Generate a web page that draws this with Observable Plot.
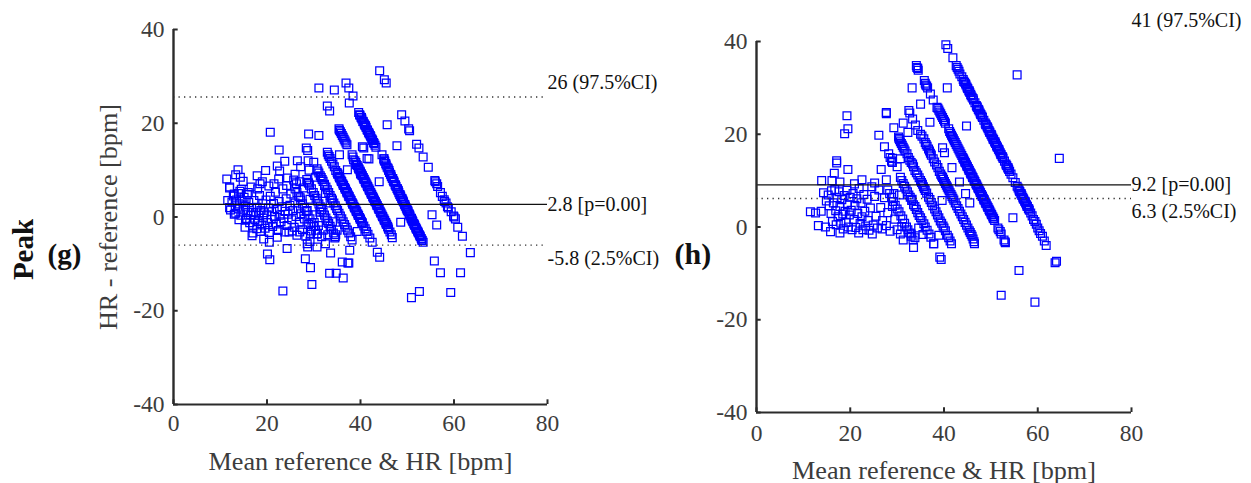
<!DOCTYPE html>
<html><head><meta charset="utf-8">
<script src="https://cdn.jsdelivr.net/npm/d3@7"></script>
<script src="https://cdn.jsdelivr.net/npm/@observablehq/plot@0.6"></script>
<style>
html,body{margin:0;padding:0;background:#fff;width:1251px;height:483px;overflow:hidden}
#wrap{position:relative;width:1251px;height:483px}
#wrap>svg{position:absolute;top:0;overflow:visible}
</style></head><body><div id="wrap"></div>
<script>
const xTicks=[0,20,40,60,80], yTicks=[-40,-20,0,20,40];
const xLabel="Mean reference & HR [bpm]", yLabel="HR - reference [bpm]";

// Panel (g): points, [mean, difference]
const gBandR=[[48.8,21.8],[49.5,20.5],[50.3,18.8],[50.5,18.4],[52,15.5],[52.5,14.7],[53.4,12.8],[54.5,10.6],[55.9,7.8],[56,7.5],[56.3,7.1],[56.5,6.5],[57.1,5.2],[57.5,4.4],[57.9,3.7],[58,3.3],[58.3,3],[58.6,2.2],[58.8,1.9],[59.4,1.1],[59.9,0.2],[60.3,-0.4],[60.8,-2.2],[61.8,-4.1]];
const gBandA=[[39.6,22.3],[39.9,21.7],[40.1,21.3],[40.3,20.9],[40.6,20.3],[40.8,19.9],[41,19.5],[41.2,19.1],[41.5,18.5],[41.7,18.1],[41.9,17.7],[42.2,17.1],[42.4,16.7],[42.6,16.3],[42.9,15.7],[43.1,15.3],[43.3,14.9],[44.6,13.3],[45,12.4],[45.2,11.9],[45.4,11.4],[45.7,10.6],[46,10],[46.2,9.5],[46.4,9.1],[46.6,8.6],[46.8,8.2],[47,7.8],[47.2,7.4],[47.4,6.9],[47.6,6.5],[47.8,6.1],[48,5.7],[48.2,5.2],[48.4,4.8],[48.6,4.4],[48.8,4],[49,3.6],[49.2,3.2],[49.4,2.7],[49.6,2.3],[49.8,1.9],[50,1.5],[50.2,1.1],[50.4,0.7],[50.6,0.2],[50.8,-0.2],[51,-0.6],[51.2,-1],[51.4,-1.4],[51.6,-1.8],[51.8,-2.2],[52,-2.6],[52.2,-3],[52.4,-3.4],[52.6,-3.8],[52.8,-4.2],[53,-4.6],[53.2,-5],[53.4,-5.4]];
const gBandA2=[[39.8,21.8],[40.2,21.2],[40.5,20.4],[40.9,19.7],[41.1,19.4],[41.4,18.6],[41.8,17.9],[42.1,17.4],[42.5,16.5],[42.8,15.9],[45.1,12],[45.5,11.1],[45.9,10.4],[46.1,9.9],[46.5,9],[46.9,8.2],[47.1,7.6],[47.5,6.8],[47.9,6],[48.1,5.6],[48.5,4.7],[48.9,3.9],[49.1,3.4],[49.5,2.6],[49.9,1.7],[50.1,1.4],[50.5,0.5],[50.9,-0.3],[51.1,-0.8],[51.5,-1.6],[51.9,-2.5],[52.3,-3.2],[52.7,-4],[53.1,-4.9]];
const gBandB=[[35.4,18.8],[35.5,18.5],[35.7,18.2],[35.9,17.8],[36.1,17.4],[36.3,17],[36.5,16.6],[36.7,16.2],[36.9,15.8],[37.1,15.4],[38.2,13.3],[38.4,12.8],[38.5,12.2],[38.8,12],[39,11.6],[39.3,11],[39.5,10.6],[39.7,10.2],[40,9.6],[40.2,9.2],[40.4,8.8],[40.6,8.4],[40.8,8],[41,7.6],[41.2,7.2],[41.4,6.8],[41.6,6.4],[41.8,6],[42,5.6],[42.2,5.2],[42.4,4.8],[42.6,4.4],[42.8,4],[43,3.6],[43.2,3.2],[43.4,2.8],[43.6,2.4],[43.8,2],[44,1.6],[44.2,1.2],[44.4,0.8],[44.6,0.4],[44.8,0],[45,-0.4],[45.2,-0.8],[45.4,-1.2],[45.6,-1.6],[45.8,-2],[46,-2.6],[46.3,-3.2],[46.6,-3.8],[46.8,-4.4]];
const gBandB2=[[39.1,11.2],[39.6,10.3],[39.9,9.8],[40.3,8.9],[40.7,8.1],[41.1,7.3],[41.5,6.5],[41.9,5.7],[42.3,4.9],[42.7,4.1],[43.1,3.3],[43.5,2.5],[43.9,1.7],[44.3,0.9],[44.7,0.1],[45.1,-0.7],[45.5,-1.5],[45.9,-2.3]];
const gBandC=[[32.9,13.8],[33.1,13.3],[33.3,12.9],[33.5,12.5],[33.8,11.9],[34.1,11.3],[34.4,10.7],[34.7,9.9],[35,9.5],[35.2,9.1],[35.4,8.7],[35.6,8.3],[35.8,7.9],[36,7.5],[36.2,7.1],[36.4,6.7],[36.6,6.3],[36.8,5.9],[37,5.5],[37.2,5.1],[37.4,4.7],[37.6,4.3],[37.8,3.9],[38,3.5],[38.2,3.1],[38.4,2.7],[38.6,2.3],[38.8,1.9],[39,1.5],[39.2,1.1],[39.4,0.7],[39.6,0.3],[39.8,-0.1],[40,-0.5],[40.2,-0.9],[40.4,-1.3],[40.7,-1.9],[41,-2.5],[41.3,-3.1],[41.6,-3.7],[42,-4.5]];
const gBandC2=[[35.1,9.2],[35.5,8.4],[35.9,7.6],[36.3,6.8],[36.7,6],[37.1,5.2],[37.5,4.4],[37.9,3.6],[38.3,2.8],[38.7,2],[39.1,1.2],[39.5,0.4],[39.9,-0.4],[40.3,-1.2]];
const gBandD=[[30.7,10.3],[30.9,9.8],[31.1,9.4],[31.4,8.8],[31.6,8.4],[31.8,8],[32,7.6],[32.3,7],[32.6,6.4],[32.9,5.8],[33.2,5.2],[33.5,4.6],[33.8,4],[34,3.6],[34.3,3],[34.6,2.4],[34.9,1.8],[35.1,1.4],[35.4,0.8],[35.7,0.2],[36,-0.4],[36.3,-1],[36.6,-1.6],[36.9,-2.2],[37.2,-2.8],[37.5,-3.4],[37.9,-4.2]];
const gBandE=[[28.5,8],[28.8,7.4],[29.1,6.8],[29.5,6],[29.9,5.2],[30.2,4.6],[30.5,4],[30.8,3.4],[31.1,2.8],[31.4,2.2],[31.7,1.6],[32,1],[32.3,0.4],[32.6,-0.2],[32.9,-0.8],[33.2,-1.4],[33.5,-2],[33.8,-2.6],[34.2,-3.4],[34.6,-4.2]];
const gBandF=[[26,6],[26.4,5.2],[26.8,4.4],[27.2,3.6],[27.6,2.8],[28,2],[28.4,1.2],[28.8,0.4],[29.2,-0.4],[29.6,-1.2],[30,-2],[30.4,-2.8],[30.8,-3.6]];
const gUpper=[[31.1,27.5],[34.4,27.1],[36.9,28.6],[37.5,27.5],[38.4,25.8],[37.6,24.3],[32.9,23.7],[33.4,22.6],[20.7,18.1],[28.9,17.7],[31.1,17.4],[22.6,14.3],[28.4,14.7],[28.7,14.2],[23.8,11.9],[26.5,12],[28.8,12],[30,11.7],[27.2,10.7],[22.2,10.9],[22.7,9.8],[19.7,9.9],[13.8,10.1],[13.3,9],[14.3,8.5],[14.9,7.6],[11.4,8.1],[12,6.4],[17.9,8.8],[18.5,7.1],[24.2,6.7],[25.7,7.9],[26.3,7.1],[28.9,7.2],[32.3,6.7],[35.5,13.3],[37.2,10.1],[40.4,15],[40.7,14.7],[41.4,12.5],[40,9.2],[44.1,31.2],[45.1,29.3],[45.5,28.6],[45.7,19.7],[47.8,15.2],[41.8,12.4],[45,12.4],[44,7.5],[48.6,-1.1]];
const gLower=[[55.3,0.5],[56.3,-1.7],[60,0],[63.5,-7.6],[55.8,-9.4],[57.1,-11.9],[61.4,-11.9],[59.3,-16.1],[52.6,-15.9],[50.9,-17.2],[37.7,-7.1],[43.6,-7.5],[44.1,-8.6],[37.3,-9.8],[36.1,-9.6],[36.3,-13],[39.3,-3.1],[42.5,-5.4],[38.2,-4.9],[23.4,-15.8],[29.6,-14.4],[33.4,-12],[34.8,-12],[37.5,-9.8],[33.6,-7.7],[29.3,-10.8],[28.2,-8.9],[24.3,-6.7],[20.1,-7.9],[20.6,-9.1],[16.8,-4],[19.3,-4.7],[20.5,-5.4],[22.2,-4.3],[23.8,-3.2],[25.4,-3],[27,-3.2],[29.3,-3.7],[28.6,-5.7],[28.7,-6.4],[29.2,-5.2],[30.7,-6.4],[32.5,-5.7],[34.7,-3.8]];
const gCloud=[[12,6.2],[14.2,5.5],[13,4.9],[15.8,4.8],[11.6,3.5],[12,2],[14,1.7],[13.3,0.8],[14,-0.6],[15.4,-0.7],[12.5,3.2],[12.8,4.5],[13.2,2.4],[13.5,3.6],[13.9,5],[14.1,2.8],[14.4,0.4],[14.7,3.4],[15,1.5],[15.1,4.2],[15.4,2.3],[15.6,-0.3],[15.9,1],[16.1,3.1],[16.3,-1.2],[16.5,0.4],[16.7,2],[16.9,-1.9],[17.1,1],[17.2,3.5],[17.4,-0.6],[17.6,0.9],[17.8,-2.5],[17.9,2.1],[18.1,-1],[18.3,0.3],[18.4,4.6],[18.6,-3.1],[18.7,1.4],[18.9,-1.7],[19.1,2.8],[19.2,-0.2],[19.4,0.9],[19.6,-2.4],[19.8,3.6],[20,0.5],[20.1,-1.2],[20.3,1.9],[20.5,-3.3],[20.7,4.4],[20.9,-0.5],[21,1.1],[21.2,-2],[21.4,2.9],[21.6,0.1],[21.8,5.3],[22,-1.5],[22.2,1.6],[22.4,-2.9],[22.6,3.3],[22.8,0.4],[23,-1],[23.2,2.2],[23.4,6],[23.6,-0.3],[23.9,1.2],[24.1,3.9],[24.3,-1.8],[24.5,0.6],[24.7,-3.2],[24.9,2.5],[25.1,4.9],[25.3,-0.6],[25.5,1.4],[25.8,-2.2],[26,3],[26.2,0.1],[26.4,-3.9],[26.7,1.8],[26.9,-1.1],[27.1,4.1],[27.3,0.7],[27.6,-2.7],[27.8,6.2],[28,-0.4],[28.3,-4.1],[28.6,1.4],[28.9,-1.6],[29.2,3.8],[29.5,-3],[29.8,0.5],[30.1,-1.2],[30.4,8.5],[30.7,-3.6],[31,-1.8],[31.3,1],[31.7,-4.2],[32,-2.8],[32.5,5],[33,-3.8],[33.5,3],[34,-1],[34.5,-4.5],[35,-2.8],[12.2,1.5],[13,0.6],[14.5,5.9],[15.3,-2.2],[16,5.2],[16.6,6.4],[17,-3.4],[18,6],[19,7.5],[20.4,6.6],[21.5,7.1],[22.5,8.1],[24.4,8.3],[26,9.1],[27,7.5],[29,10]];
const gLines={mean:2.7, upper:25.6, lower:-6};
const gText=["26 (97.5%CI)","2.8 [p=0.00]","-5.8 (2.5%CI)"];

// Panel (h): points, [mean, difference]
const hBandR=[[42.6,34.8],[42.8,34.4],[43,34],[43.2,33.6],[43.4,33],[43.8,32.4],[44.1,31.8],[44.4,31.2],[44.7,30.6],[44.9,30.2],[45.1,29.8],[45.3,29.4],[45.5,29],[45.7,28.6],[46,28],[46.3,27.4],[46.6,26.8],[46.9,26.2],[47.1,25.8],[47.3,25.4],[47.5,25],[47.7,24.6],[47.9,24.2],[48.2,23.6],[48.5,23],[48.8,22.4],[49,22],[49.2,21.6],[49.4,21.2],[49.6,20.8],[49.8,20.4],[50,20],[50.2,19.6],[50.4,19.2],[50.6,18.8],[50.8,18.4],[51,18],[51.2,17.6],[51.4,17.2],[51.6,16.8],[51.8,16.4],[52,16],[52.2,15.6],[52.4,15.2],[52.6,14.8],[52.9,14.2],[53.2,13.6],[53.4,13.2],[53.6,12.8],[53.8,12.4],[54,12],[54.3,11.4],[54.7,10.6],[55.2,9.6],[55.6,8.8],[55.8,8.4],[56,8],[56.2,7.6],[56.4,7.2],[56.6,6.8],[56.8,6.4],[57,6],[57.2,5.6],[57.4,5.2],[57.6,4.8],[57.8,4.4],[58,4],[58.2,3.6],[58.5,3],[58.8,2.4],[59.1,1.6],[59.4,1.2],[59.7,0.6],[60,-0.2],[60.3,-0.8],[60.6,-1.4],[61,-2],[61.4,-3],[61.8,-4]];
const hBandR2=[[44.2,31.4],[44.6,30.9],[45,29.9],[45.4,29.3],[45.8,28.3],[46.2,27.7],[47,26],[47.4,25.3],[47.8,24.3],[48.1,23.9],[48.9,22.1],[49.3,21.5],[49.7,20.5],[50.1,19.9],[50.5,18.9],[50.9,18.3],[51.3,17.3],[51.7,16.7],[52.1,15.7],[52.5,15.1],[53.3,13.3],[53.7,12.7],[56.1,7.7],[56.5,7.1],[56.9,6.1],[57.3,5.5],[57.7,4.5],[58.1,3.9]];
const hBandA=[[34.1,34.8],[34.2,34.4],[34.4,34.2],[34.5,33.8],[35.8,31.6],[36,31],[36.1,30.6],[36.3,30.4],[36.5,30],[37.1,28.7],[37.7,27.4],[38.5,25.8],[38.7,25.6],[38.9,25.2],[39.1,24.8],[39.3,24.4],[39.5,24],[39.7,23.6],[39.9,23.2],[40.1,22.8],[40.3,22.4],[41,21.2],[41.2,20.6],[41.4,20.2],[41.6,19.8],[41.8,19.4],[42,19],[42.2,18.6],[42.4,18.2],[42.6,17.8],[42.8,17.4],[43,17],[43.2,16.6],[43.4,16.2],[43.6,15.8],[43.8,15.4],[44,15],[44.2,14.6],[44.4,14.2],[44.6,13.8],[44.8,13.4],[45,13],[45.2,12.6],[45.4,12.2],[45.6,11.8],[45.8,11.4],[46,11],[46.2,10.6],[46.4,10.2],[46.6,9.8],[46.8,9.4],[47,9],[47.2,8.6],[47.4,8.2],[47.6,7.8],[47.8,7.4],[48,7],[48.2,6.6],[48.4,6.2],[48.6,5.8],[48.8,5.4],[49,5],[49.2,4.6],[49.4,4.2],[49.6,3.8],[49.8,3.4],[50,3],[50.2,2.6],[50.4,2.2],[50.6,1.8],[50.8,1.4],[51.5,-0.2],[51.7,-0.6],[52,-1],[52.2,-1.5],[52.8,-2.8],[53,-3.2],[53.1,-3.4]];
const hBandA2=[[44.1,14.7],[44.5,13.9],[44.9,13.1],[45.3,12.3],[45.7,11.5],[46.1,10.7],[46.5,9.9],[46.9,9.1],[47.3,8.3],[47.7,7.5],[48.1,6.7],[48.5,5.9],[48.9,5.1],[49.3,4.3],[49.7,3.5],[50.1,2.7],[50.5,1.9]];
const hBandB=[[32.5,25.1],[32.7,24.6],[33.3,23.3],[33.9,22],[34.4,20.8],[35,20],[35.3,19.6],[35.7,19],[36,18.2],[36.2,17.8],[36.4,17.4],[36.7,16.8],[36.9,16.4],[37.1,15.9],[37.3,15.5],[37.7,14.7],[38,14],[38.4,13.4],[38.7,12.8],[39,12],[39.3,11.4],[39.5,11],[39.7,10.7],[39.9,10.3],[40.1,9.8],[40.3,9.4],[40.5,9],[40.7,8.6],[40.9,8.2],[41.1,7.8],[41.3,7.4],[41.5,7],[41.7,6.6],[41.9,6.2],[42.1,5.8],[42.4,5.2],[42.7,4.6],[43,4],[43.3,3.4],[43.6,2.8],[43.9,2.2],[44.2,1.6],[44.5,1],[44.8,0.4],[45.1,-0.2],[45.4,-0.8],[45.6,-1.2],[45.8,-1.6],[46,-2],[46.2,-2.6],[46.4,-3.2],[46.5,-3.6]];
const hBandC=[[30.3,19.4],[30.4,19.1],[30.5,18.8],[30.7,18.4],[30.9,18],[31.1,17.6],[31.3,17.2],[31.5,16.8],[31.7,16.4],[32.1,15.8],[32.4,15],[32.7,14.4],[33,13.9],[33.3,13.6],[33.5,13],[33.8,12.2],[34.1,11.7],[34.4,11.2],[34.7,10.6],[35,10],[35.2,9.6],[35.4,9.2],[35.6,8.7],[35.8,8.3],[36,7.9],[36.3,7.3],[36.7,6.4],[37,5.9],[37.3,5.3],[37.6,4.6],[38,3.9],[38.3,3.3],[38.6,2.6],[38.9,2],[39.2,1.3],[39.5,0.8],[39.8,0.2],[40,-0.2],[40.3,-0.8],[40.7,-1.8],[41,-2.3],[41.3,-3],[41.6,-3.6]];
const hBandD=[[28.5,15],[28.8,14.2],[29,13.9],[30.7,10.7],[31,10],[31.3,9.4],[31.6,8.8],[31.9,8.2],[32.2,7.6],[32.5,6.9],[32.8,6.4],[33.1,5.7],[33.5,4.8],[33.8,4.4],[34.1,3.8],[34.4,3.1],[34.7,2.5],[35,2],[35.3,1.4],[35.7,0.7],[36,0],[36.4,-0.7],[36.8,-1.5],[37.2,-2.2],[37.8,-3.6]];
const hBandE=[[28,8],[28.4,7.2],[28.8,6.4],[29.2,5.5],[29.6,4.7],[30,3.9],[30.4,3.3],[30.8,2.4],[31.2,1.7],[31.6,0.8],[32,0],[32.3,-0.6],[32.7,-1.3],[33,-2],[33.4,-2.8]];
const hScatter=[[40.4,39.3],[40.8,38.5],[41.9,36.5],[19.3,24],[19.5,21.2],[18.8,20.1],[26.1,19.8],[27.7,24.7],[27.7,24.4],[29.3,21.4],[31.3,22.4],[32.3,20.4],[33.2,30],[35,26.5],[37,22.6],[40.7,30],[44.8,21.8],[39.7,17.1],[40.1,16],[27.3,17.3],[28.2,15.8],[29,14.8],[17.1,14.3],[17.1,13.8],[19.5,12.4],[16.6,11.6],[13.9,10],[16.1,10],[17.8,9.7],[26.6,12.4],[22.5,10.2],[20.9,9.3],[25.2,9.5],[27.7,10.2],[29.3,7.2],[30,13],[30.7,14.7],[41.7,12.8],[43.3,9.7],[44.6,7.2],[45.5,5.2],[39.6,5.7],[64.6,14.8],[54.7,2],[63.7,-7.7],[64,-7.4],[56,-9.4],[52.2,-14.7],[59.4,-16.2],[55.6,32.8],[33.5,-4.4],[33.8,-2.3],[37.8,-3.6],[39.1,-6.5],[39.4,-7],[38.9,-1.8],[30.7,-1.5],[31.3,-2.8],[26.8,-0.4],[24.7,-1.5]];
const hCloud=[[11.5,3.3],[12.6,3],[13.8,3.4],[13.2,0.3],[14.7,0],[15.8,-1],[17.8,-1.3],[21.8,-1.3],[14.3,7.4],[14.9,5.6],[15.3,6.9],[15.5,4.6],[15.9,2.9],[16,7.8],[16.2,1.2],[16.4,5.2],[16.7,8.1],[16.9,3.5],[17,0.5],[17.2,6.3],[17.4,2.2],[17.6,7.6],[17.8,4.4],[18,0.8],[18.2,5.9],[18.4,2.8],[18.5,-0.4],[18.7,6.8],[18.9,3.4],[19.1,1],[19.3,7.9],[19.4,4.8],[19.6,0],[19.8,2.6],[20,6.4],[20.2,3.6],[20.4,-0.6],[20.6,7.2],[20.8,1.6],[21,4.7],[21.2,-0.1],[21.4,6.1],[21.6,2.9],[21.9,8.3],[22.1,0.8],[22.3,5.2],[22.5,2.2],[22.7,-0.6],[22.9,7],[23.1,3.4],[23.3,0.2],[23.6,6],[23.8,1.4],[24,-0.7],[24.3,4.1],[24.6,8.7],[24.9,0.4],[25.2,6.6],[25.5,2.3],[25.8,-0.2],[26.1,8],[26.5,4.2],[26.9,1.4],[27.3,6.3],[27.7,0.3],[28,3.1],[28.5,-0.9],[29,4.4],[29.5,1.7],[30,-0.6],[30.5,6.9],[31,0.1],[33,-1.5],[33.2,6],[34.6,-0.2],[35.5,-1.6]];
const hLines={mean:9.1, lower:6.15};
const hText=["41 (97.5%CI)","9.2 [p=0.00]","6.3 (2.5%CI)"];

const ink="#2b2b2b", tickInk="#3c3c3c", serif="'Liberation Serif',serif", fs=23.5, labelFs=26.2;
const toRows=(...bands)=>bands.flat().map(([mean,diff])=>({mean,diff}));

function panel({rows,lines,left,width,mL,mR,mT,mB,tickPad,xLabelDy,yLab,labels,extra}){
  const svg=Plot.plot({
    width,height:483,marginLeft:mL,marginRight:mR,marginTop:mT,marginBottom:mB,
    style:{fontFamily:serif,fontSize:fs+"px",color:ink,background:"transparent",overflow:"visible"},
    x:{domain:[0,80]},y:{domain:[-40,40]},
    marks:[
      Plot.dot(rows,{x:"mean",y:"diff",symbol:"square",r:4.4,stroke:"#0000ff",strokeWidth:1.25,fill:"none"}),
      Plot.ruleY([lines.mean],{stroke:"#111",strokeWidth:1.3}),
      Plot.ruleY([lines.lower],{stroke:"#333",strokeWidth:1.3,strokeDasharray:"1.3 4.2"}),
      ...(lines.upper!==undefined?[Plot.ruleY([lines.upper],{stroke:"#333",strokeWidth:1.3,strokeDasharray:"1.3 4.2"})]:[]),
      Plot.ruleX([0],{stroke:ink,strokeWidth:2.4}),
      Plot.ruleY([-40],{stroke:ink,strokeWidth:2.2}),
      Plot.ruleY(yTicks,{y:d=>d,x1:0,x2:1,stroke:ink,strokeWidth:2}),
      Plot.ruleX(xTicks,{x:d=>d,y1:-40,y2:-39,stroke:ink,strokeWidth:2}),
      Plot.axisX({ticks:xTicks,tickSize:0,tickPadding:tickPad,label:null,fontSize:fs,color:tickInk,tickFormat:d=>d}),
      Plot.axisY({ticks:yTicks,tickSize:0,tickPadding:9,label:null,fontSize:fs,color:tickInk,tickFormat:d=>String(d)}),
      Plot.text([xLabel],{frameAnchor:"bottom",dy:xLabelDy,lineAnchor:"middle",fontSize:labelFs,fill:tickInk,fontFamily:serif}),
      ...(yLab?[Plot.text([yLab],{frameAnchor:"left",dx:-65,textAnchor:"middle",lineAnchor:"middle",rotate:-90,fontSize:labelFs,fill:tickInk,fontFamily:serif})]:[]),
      ...labels.map(l=>Plot.text([l.t],{x:80,y:l.y,dy:l.dy,textAnchor:"start",fontSize:20,fill:"#111",fontFamily:serif})),
      ...extra
    ]
  });
  svg.style.left=left+"px";
  document.getElementById("wrap").append(svg);
}

panel({rows:toRows(gBandR,gBandA,gBandA2,gBandB,gBandB2,gBandC,gBandC2,gBandD,gBandE,gBandF,gUpper,gLower,gCloud),lines:gLines,left:0,width:700,mL:173,mR:153,mT:29,mB:79,tickPad:10,xLabelDy:57,yLab:yLabel,
  labels:[{t:gText[0],y:gLines.upper,dy:-14},{t:gText[1],y:gLines.mean,dy:0},{t:gText[2],y:gLines.lower,dy:13}],
  extra:[
    Plot.text(["Peak"],{frameAnchor:"top-left",dx:-150,dy:220,rotate:-90,textAnchor:"middle",lineAnchor:"middle",fontWeight:"bold",fontSize:29,fontFamily:serif,fill:"#111"}),
    Plot.text(["(g)"],{frameAnchor:"top-left",dx:-126,dy:225,lineAnchor:"middle",textAnchor:"start",fontWeight:"bold",fontSize:29,fontFamily:serif,fill:"#111"})
  ]});
panel({rows:toRows(hBandR,hBandR2,hBandA,hBandA2,hBandB,hBandC,hBandD,hBandE,hScatter,hCloud),lines:hLines,left:625,width:626,mL:131,mR:120,mT:41,mB:71,tickPad:12,xLabelDy:58,yLab:null,
  labels:[{t:hText[0],y:40,dy:-21},{t:hText[1],y:hLines.mean,dy:0},{t:hText[2],y:hLines.lower,dy:13}],
  extra:[
    Plot.text(["(h)"],{frameAnchor:"top-left",dx:-82,dy:213,lineAnchor:"middle",textAnchor:"start",fontWeight:"bold",fontSize:30,fontFamily:serif,fill:"#111"})
  ]});
</script></body></html>
